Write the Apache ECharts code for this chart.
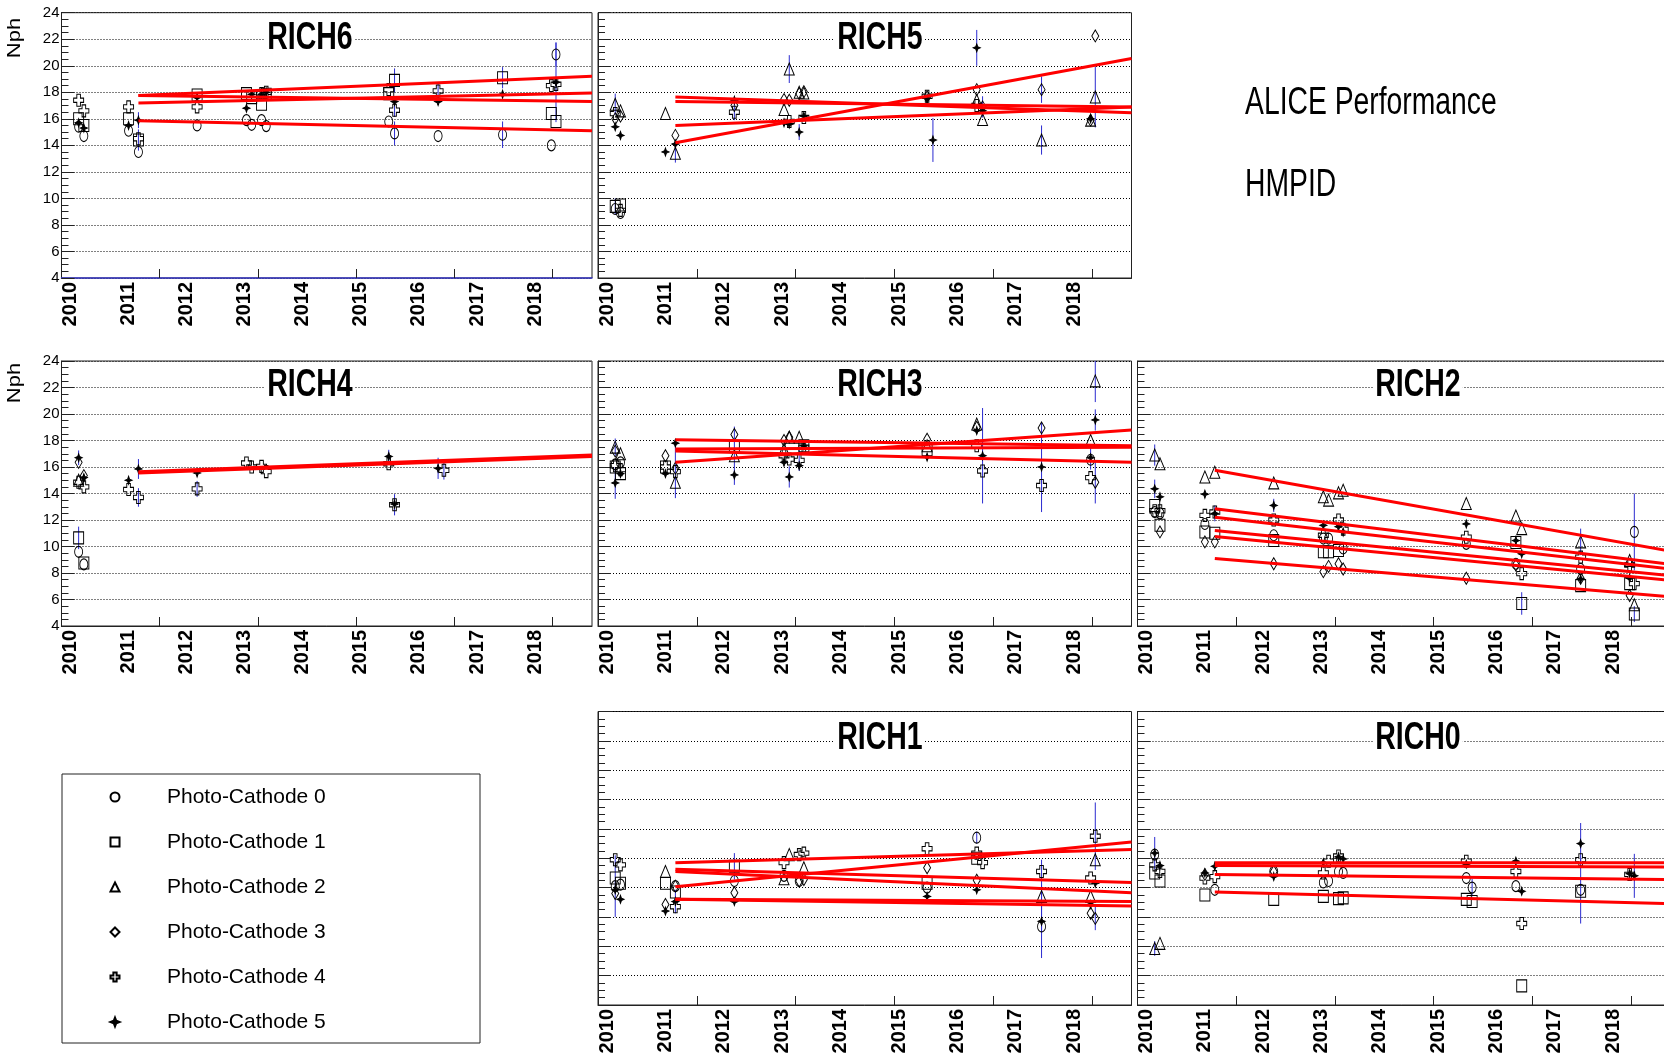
<!DOCTYPE html>
<html><head><meta charset="utf-8">
<script src="https://cdn.jsdelivr.net/npm/echarts@6/dist/echarts.min.js"></script>
<style>html,body{margin:0;padding:0;background:#fff}#c{width:1664px;height:1062px}</style>
</head><body><div id="c"></div><script>
// ---------------- data ----------------
const runs = [2010.14, 2010.23, 2011.00, 2011.17, 2012.18, 2013.03, 2013.12, 2013.29, 2013.37, 2015.48, 2015.58, 2016.33, 2016.43, 2017.44, 2018.28, 2018.36];
const cathodes = ['Photo-Cathode 0', 'Photo-Cathode 1', 'Photo-Cathode 2', 'Photo-Cathode 3', 'Photo-Cathode 4', 'Photo-Cathode 5'];
const xLabels = [2010, 2011, 2012, 2013, 2014, 2015, 2016, 2017, 2018];
const panelNames = ['RICH6', 'RICH5', 'RICH4', 'RICH3', 'RICH2', 'RICH1', 'RICH0'];
const infoLines = ['ALICE Performance', 'HMPID'];
const yTitle = 'Nph';

// values per cathode, indexed by run (null = no measurement)
const rich6Values = [
  [15.4,14.7,15.1,13.5,15.5,15.9,15.55,15.9,15.45,15.8,14.9,14.7,null,14.8,14.0,20.85],
  [16.0,15.5,16.0,14.4,17.8,17.9,17.6,17.1,17.85,17.9,18.9,null,null,19.1,16.4,15.8],
  [],
  [],
  [17.4,16.6,16.9,14.5,16.9,null,null,17.9,18.0,18.2,16.65,18.1,null,null,18.5,18.6],
  [15.7,15.3,15.5,15.9,17.6,16.8,17.85,17.85,18.0,null,17.3,17.3,null,17.85,null,18.75]
];
const rich6Errors = [[5,3,0.6],[1,3,0.8],[0,10,0.9],[1,10,0.9],[4,10,0.5],[4,11,0.6],[0,13,1.0],[1,13,0.8],[0,15,0.9],[5,15,3.0]];
const rich6Fits = [[15.85,15.1],[17.75,19.2],null,null,[17.75,17.3],[17.2,17.95]];

const rich5Values = [
  [9.2,8.9],
  [9.4,9.5],
  [17.1,16.6,16.4,13.4,null,16.7,19.75,18.0,17.95,null,null,17.4,15.95,14.4,15.9,17.65],
  [16.0,16.2,null,14.75,17.0,17.45,17.4,17.9,18.05,17.65,null,18.2,16.9,18.2,15.9,22.25],
  [16.4,9.1,null,null,16.5,null,15.8,null,16.1,17.7,null,17.0],
  [15.4,14.75,13.5,14.1,17.4,15.7,15.6,15.0,16.2,17.55,14.4,21.35,16.6,null,16.0,null]
];
const rich5Errors = [[2,0,0.8],[1,0,0.6],[2,3,0.7],[4,4,0.6],[2,6,1.05],[5,7,0.6],[5,10,1.65],[5,11,1.35],[3,12,0.8],[3,13,1.0],[2,13,1.1],[2,15,2.3]];
const rich5Fits = [null,null,[17.65,16.45],[14.2,20.55],[17.3,16.9],[15.5,16.9]];

const rich4Values = [
  [9.6,8.65],
  [10.65,8.75],
  [15.0],
  [16.35,15.35],
  [14.85,14.5,14.3,13.7,14.35,16.3,16.0,16.05,15.65,16.25,13.15,null,15.75],
  [16.7,15.2,15.0,15.85,15.55,null,null,null,null,16.8,13.2,15.9]
];
const rich4Errors = [[5,0,0.55],[1,0,0.85],[5,3,0.75],[4,3,0.7],[4,4,0.6],[5,9,0.5],[4,10,0.8],[5,11,0.8],[4,12,0.7]];
const rich4Fits = [null,null,null,null,[15.55,16.8],[15.65,16.9]];

const rich3Values = [
  [16.2,16.35,null,null,null,null,null,null,null,null,null,null,null,null,16.55],
  [16.0,15.5,16.0,null,17.55,null,null,null,17.6,17.3],
  [17.5,17.0,null,14.85,16.85,17.35,18.25,18.25,null,17.6,null,19.25,null,null,18.0,22.5],
  [17.2,null,16.85,15.9,18.45,18.0,18.25,null,null,18.1,null,19.0,null,18.95,null,14.85],
  [16.1,15.8,16.0,15.65,null,16.85,16.6,16.5,17.5,null,null,17.6,15.7,14.6,15.2],
  [14.8,15.5,15.5,17.8,15.4,16.35,15.25,16.1,17.6,16.75,null,18.75,16.85,16.0,16.7,19.55]
];
const rich3Errors = [[2,0,0.65],[5,0,1.2],[4,3,2.0],[2,4,2.2],[5,6,0.8],[4,7,0.8],[5,12,3.6],[5,13,3.4],[5,14,0.9],[2,15,1.6],[5,15,0.8],[3,15,1.6]];
const rich3Fits = [null,null,[16.35,18.8],[18.05,17.6],[17.2,16.35],[17.35,17.5]];

const rich2Values = [
  [12.6,12.5,11.7,null,10.85,10.6,10.6,null,9.85,10.2,null,8.7,null,8.3,null,11.1],
  [13.1,11.6,11.1,11.0,10.45,9.6,9.6,9.7,null,null,null,10.3,5.7,7.05,7.2,4.9],
  [16.9,16.25,15.25,15.6,14.8,13.75,13.5,14.05,14.25,13.25,null,12.3,11.35,10.35,8.95,5.6],
  [null,11.1,10.35,10.35,8.7,8.1,8.5,8.7,8.3,7.6,null,8.6,null,7.6,6.3,null],
  [12.7,12.7,12.35,12.6,12.0,10.85,null,12.0,11.3,10.7,null,null,7.95,9.2,8.6,7.2],
  [14.35,13.75,13.95,12.5,13.1,11.6,null,11.5,11.1,11.7,null,10.45,9.45,7.55,7.6,null]
];
const rich2Errors = [[2,0,0.8],[5,0,0.7],[5,3,0.6],[5,4,0.5],[1,12,0.85],[2,13,1.0],[0,15,2.9],[1,15,0.6]];
const rich2Fits = [[11.2,7.8],[10.75,7.45],[15.75,9.65],[9.1,6.2],[12.2,8.3],[12.85,8.65]];

const rich1Values = [
  [12.1,12.2,null,12.1,12.45,12.8,null,12.45,null,12.0,null,15.4,null,9.35],
  [12.65,12.3,12.3,11.7,13.45,null,null,null,null,12.3,null,14.0],
  [null,null,13.1,null,null,12.6,14.25,null,13.35,null,null,null,null,11.4,11.4,13.9],
  [11.6,null,10.85,12.1,11.65,null,null,12.45,12.55,13.35,null,12.5,null,null,10.25,9.9],
  [13.9,13.55,null,10.7,null,13.7,null,14.25,14.35,14.65,null,14.35,13.7,13.1,12.65,15.5],
  [11.85,11.2,10.4,11.05,11.05,null,null,null,null,11.4,null,11.85,null,9.7,10.85,12.3]
];
const rich1Errors = [[0,0,2.1],[5,3,0.8],[1,4,0.9],[0,11,0.4],[5,13,2.5],[2,13,2.5],[4,15,2.3],[3,15,0.8]];
const rich1Fits = [[12.05,15.1],[13.25,12.35],[13.1,11.65],[11.2,10.75],[13.7,14.6],[11.2,11.05]];

const rich0Values = [
  [14.25,null,null,11.85,13.1,12.35,12.45,13.1,13.0,12.65,12.0,12.1,null,11.85],
  [13.0,12.45,11.5,null,11.2,11.4,null,11.25,11.3,11.2,11.05,null,5.3,11.75],
  [7.85,8.2],
  [null,null,12.9,null,13.1],
  [13.55,13.1,12.65,12.75,null,13.0,13.8,14.15,null,13.8,null,13.1,9.55,13.9,12.9],
  [14.35,13.5,13.0,13.45,12.75,13.7,null,14.1,13.95,13.6,null,13.8,11.75,15.0,12.95,12.8]
];
const rich0Errors = [[5,0,1.1],[2,0,0.5],[0,10,0.6],[1,13,2.2],[5,13,1.4],[5,15,1.5]];
const rich0Fits = [[12.9,12.55],[11.7,10.9],null,null,[13.5,13.4],[13.7,13.7]];

// ---------------- layout / style ----------------
const panelValues = [rich6Values, rich5Values, rich4Values, rich3Values, rich2Values, rich1Values, rich0Values];
const panelErrors = [rich6Errors, rich5Errors, rich4Errors, rich3Errors, rich2Errors, rich1Errors, rich0Errors];
const panelFits = [rich6Fits, rich5Fits, rich4Fits, rich3Fits, rich2Fits, rich1Fits, rich0Fits];
const panelCells = [[0,0],[0,1],[1,0],[1,1],[1,2],[2,1],[2,2]];
const colLeft = [61.5, 598, 1137.5], colWidth = [530.5, 533.5, 533];
const rowTop = [12.7, 361, 711.5], rowHeight = [265.3, 265, 293.5];
const titleLeft = [265, 835, 1373], titleMid = [38, 385, 738];
const X_MIN = 2009.845, X_MAX = 2018.98;
const tickFrac = 0.1852;
const xTicks = [1,2,3,4,5].map(k => X_MIN + k * tickFrac * (X_MAX - X_MIN));
const fitStart = runs[3];

const symbols = ['circle',
  'path://M0,0 H10 V10 H0 Z',
  'path://M5,0 L10,10 L0,10 Z',
  'path://M5,0 L10,5 L5,10 L0,5 Z',
  'path://M3.2,0 H6.8 V3.2 H10 V6.8 H6.8 V10 H3.2 V6.8 H0 V3.2 H3.2 Z',
  'path://M5,0 L6.4,3.6 L10,5 L6.4,6.4 L5,10 L3.6,6.4 L0,5 L3.6,3.6 Z'];
const symbolSizes = [[8,11],[10,12],[10,12],[7,12],[10,12],[7,8]];
const FONT = 'Liberation Sans, Arial, Helvetica, sans-serif';

const grids = [], xAxes = [], yAxes = [], series = [], graphics = [];
panelNames.forEach((name, i) => {
  const [r, c] = panelCells[i];
  grids.push({left: colLeft[c], top: rowTop[r], width: colWidth[c], height: rowHeight[r],
    show: true, borderColor: '#222', borderWidth: 1, backgroundColor: 'rgba(0,0,0,0)',
    containLabel: false, outerBoundsMode: 'none'});
  xAxes.push({gridIndex: i, type: 'value', min: X_MIN, max: X_MAX,
    axisLine: {show: true, onZero: false, lineStyle: {color: i === 0 ? '#3a3ac8' : '#222', width: i === 0 ? 1.5 : 1}},
    axisTick: {show: true, inside: true, length: 9, customValues: xTicks, lineStyle: {color: '#222'}},
    axisLabel: {show: true, customValues: xLabels, rotate: 90, margin: 4, fontSize: 20, fontWeight: 'bold',
      color: '#000', fontFamily: FONT, formatter: v => String(Math.round(v))},
    splitLine: {show: false}});
  yAxes.push({gridIndex: i, type: 'value', min: 4, max: 24, interval: 2,
    axisLine: {show: true, onZero: false, lineStyle: {color: '#222'}},
    axisTick: {show: true, inside: true, length: 13, lineStyle: {color: '#222'}},
    minorTick: {show: true, splitNumber: 4, length: 7, lineStyle: {color: '#222'}},
    axisLabel: {show: c === 0, fontSize: 15, margin: 2, color: '#000', fontFamily: FONT},
    splitLine: {show: true, lineStyle: {color: '#000', type: [1, 2], width: 1}}});

  const vals = panelValues[i];
  // error bars
  const errData = panelErrors[i].map(([cat, run, e]) => {
    const v = vals[cat][run];
    return [runs[run], v - e, v + e];
  });
  series.push({type: 'custom', name: name + ' errors', xAxisIndex: i, yAxisIndex: i, data: errData,
    silent: true, z: 2, clip: true,
    renderItem: (params, api) => {
      const p1 = api.coord([api.value(0), api.value(1)]);
      const p2 = api.coord([api.value(0), api.value(2)]);
      return {type: 'line', shape: {x1: p1[0], y1: p1[1], x2: p2[0], y2: p2[1]},
        style: {stroke: '#2b2bd0', lineWidth: 1}};
    }});
  // points
  vals.forEach((arr, cat) => {
    const data = [];
    arr.forEach((v, run) => { if (v != null) data.push([runs[run], v]); });
    if (!data.length) return;
    series.push({type: 'scatter', name: cathodes[cat], xAxisIndex: i, yAxisIndex: i, data,
      symbol: symbols[cat], symbolSize: symbolSizes[cat], z: 3, silent: true,
      itemStyle: {color: cat === 5 ? '#000' : 'rgba(255,255,255,0)', borderColor: '#000', borderWidth: 1, opacity: 1},
      emphasis: {disabled: true}});
  });
  // fit lines
  panelFits[i].forEach((f, cat) => {
    if (!f) return;
    series.push({type: 'line', name: name + ' fit ' + cat, xAxisIndex: i, yAxisIndex: i,
      data: [[fitStart, f[0]], [X_MAX, f[1]]], showSymbol: false, symbol: 'none', silent: true, z: 4,
      lineStyle: {color: '#ff0000', width: 3}, emphasis: {disabled: true}});
  });
  // panel title
  graphics.push({type: 'text', x: titleLeft[c], y: titleMid[r], scaleX: 0.73, z: 10,
    style: {text: name, font: 'bold 39px ' + FONT, fill: '#000', backgroundColor: '#fff', padding: [0, 3],
      align: 'left', verticalAlign: 'middle', textAlign: 'left', textVerticalAlign: 'middle'}});
});

// y titles
[38, 383].forEach(y => graphics.push({type: 'text', x: 15, y, rotation: Math.PI / 2, scaleY: 0.8, z: 10,
  style: {text: yTitle, font: '22px ' + FONT, fill: '#000', align: 'center', verticalAlign: 'middle',
    textAlign: 'center', textVerticalAlign: 'middle'}}));
// info text
[[104, infoLines[0]], [186, infoLines[1]]].forEach(([y, t]) => graphics.push({type: 'text', x: 1245, y, scaleX: 0.745, z: 10,
  style: {text: t, font: '38px ' + FONT, fill: '#000', align: 'left', verticalAlign: 'middle',
    textAlign: 'left', textVerticalAlign: 'middle'}}));
// legend box
graphics.push({type: 'rect', shape: {x: 62, y: 774, width: 418, height: 269}, z: 0,
  style: {fill: '#fff', stroke: '#222', lineWidth: 1}});

const chart = echarts.init(document.getElementById('c'), null, {renderer: 'canvas'});
chart.setOption({
  animation: false,
  backgroundColor: '#fff',
  textStyle: {fontFamily: FONT},
  grid: grids, xAxis: xAxes, yAxis: yAxes, series,
  graphic: {elements: graphics},
  legend: {data: cathodes, orient: 'vertical', left: 104.5, top: 778, itemWidth: 10, itemHeight: 9, itemGap: 17,
    selectedMode: false, z: 20, symbolKeepAspect: true,
    textStyle: {fontSize: 21, lineHeight: 28, color: '#000', fontFamily: FONT, padding: [0, 0, 0, 42]}}
});
</script></body></html>
